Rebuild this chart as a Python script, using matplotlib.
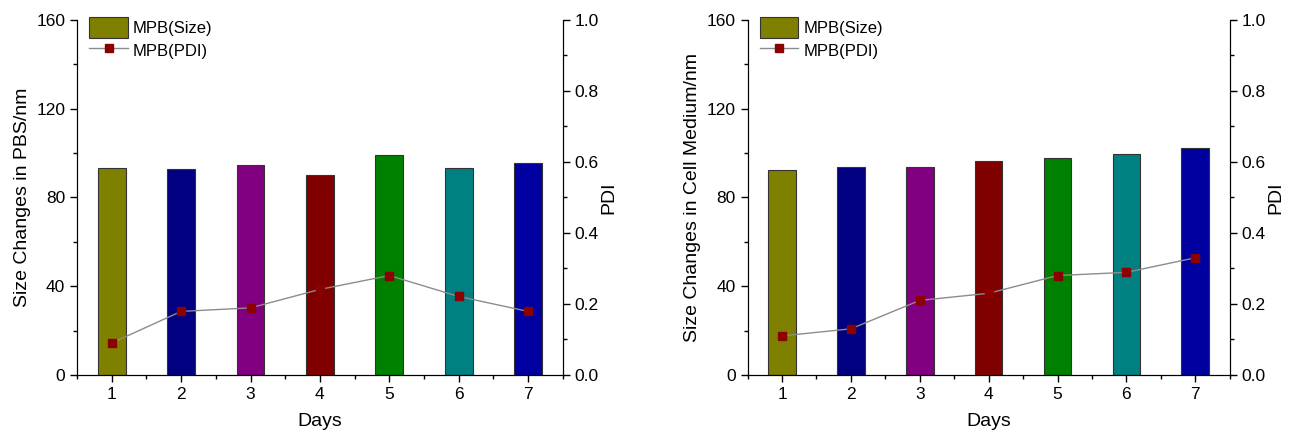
import matplotlib.pyplot as plt
from matplotlib.ticker import MultipleLocator

plt.rcParams['font.family'] = ['Liberation Sans', 'DejaVu Sans']

days = [1, 2, 3, 4, 5, 6, 7]
bar_colors = ['#808000', '#000080', '#800080', '#800000', '#008000', '#008080', '#0000A0']

# particle size (nm) and PDI over 7 days
size_pbs = [93.3, 92.7, 94.8, 90.3, 98.9, 93.4, 95.3]
pdi_pbs = [0.09, 0.179, 0.189, 0.241, 0.28, 0.221, 0.179]
size_cell = [92.3, 93.6, 93.75, 96.2, 97.7, 99.5, 102.2]
pdi_cell = [0.11, 0.13, 0.21, 0.23, 0.28, 0.289, 0.33]

panels = [
    (size_pbs, pdi_pbs, 'Size Changes in PBS/nm', [0.0597, 0.132, 0.377, 0.822]),
    (size_cell, pdi_cell, 'Size Changes in Cell Medium/nm', [0.5800, 0.132, 0.374, 0.822]),
]

fig = plt.figure(figsize=(12.89, 4.32), dpi=100)

for sizes, pdi, ylabel, rect in panels:
    ax = fig.add_axes(rect)
    bars = ax.bar(days, sizes, width=0.4, color=bar_colors, edgecolor='#333333',
                  linewidth=0.8, label='MPB(Size)', zorder=2)
    ax.set_xlim(0.5, 7.5)
    ax.set_ylim(0, 160)
    ax.yaxis.set_major_locator(MultipleLocator(40))
    ax.yaxis.set_minor_locator(MultipleLocator(20))
    ax.xaxis.set_major_locator(MultipleLocator(1))
    ax.xaxis.set_minor_locator(MultipleLocator(0.5))
    ax.set_xlabel('Days', fontsize=14, labelpad=8)
    ax.set_ylabel(ylabel, fontsize=14, labelpad=4)
    ax.spines['top'].set_visible(False)
    ax.tick_params(which='major', direction='out', length=5, labelsize=12.5, width=1)
    ax.tick_params(which='minor', direction='out', length=3, width=1)

    ax2 = ax.twinx()
    line, = ax2.plot(days, pdi, color='#8c8c8c', linewidth=1.0, marker='s',
                     markersize=6, markerfacecolor='#8B0000', markeredgecolor='#8B0000',
                     label='MPB(PDI)', zorder=3)
    ax2.set_ylim(0, 1.0)
    ax2.yaxis.set_major_locator(MultipleLocator(0.2))
    ax2.yaxis.set_minor_locator(MultipleLocator(0.1))
    ax2.set_ylabel('PDI', fontsize=14, labelpad=1)
    ax2.spines['top'].set_visible(False)
    ax2.tick_params(which='major', direction='out', length=5, labelsize=12.5, width=1)
    ax2.tick_params(which='minor', direction='out', length=3, width=1)

    ax2.legend([bars, line], ['MPB(Size)', 'MPB(PDI)'], loc='upper left',
               bbox_to_anchor=(0.005, 1.035), frameon=False, fontsize=12,
               handlelength=2.3, handleheight=1.5, handletextpad=0.3,
               labelspacing=0.15, borderaxespad=0.2)

fig.savefig('out.png', dpi=100)
